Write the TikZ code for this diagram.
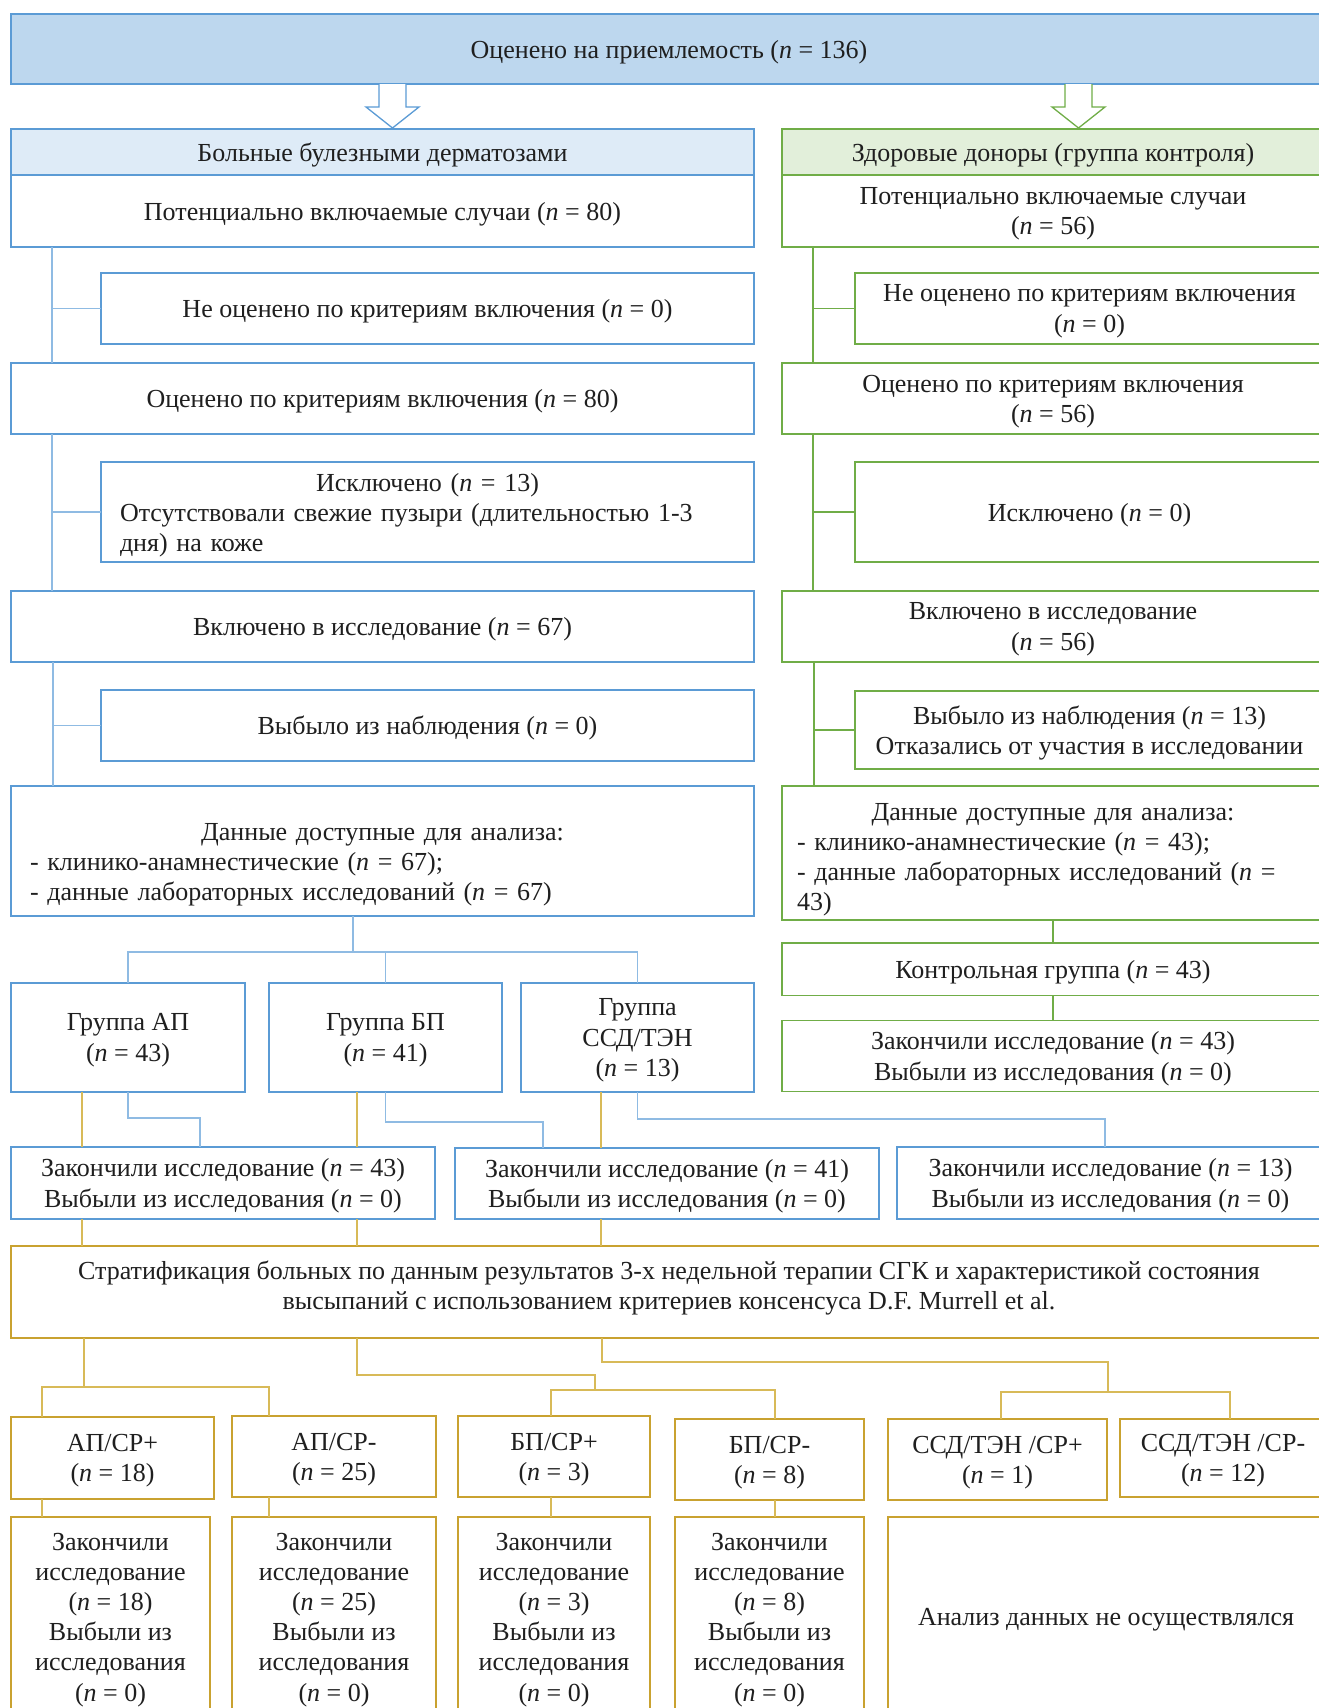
\documentclass[tikz,border=0pt]{standalone}
\usepackage{fontspec}
\setmainfont{Liberation Serif}
\usetikzlibrary{calc}
\definecolor{bluBd}{HTML}{5B9BD5}
\definecolor{bluLn}{HTML}{8FBBE3}
\definecolor{topFill}{HTML}{BDD7EE}
\definecolor{hdrBl}{HTML}{DEEBF7}
\definecolor{grnBd}{HTML}{70AD47}
\definecolor{hdrGr}{HTML}{E2EFDA}
\definecolor{gldBd}{HTML}{C9A230}
\definecolor{gldLn}{HTML}{D8BA58}
\newcommand{\nv}{\textit{n}}
\newcommand{\midline}[1]{\makebox[\hsize]{#1}}
\begin{document}
\begin{tikzpicture}[x=1pt, y=-1pt,
    every node/.style={font=\fontsize{26}{30.2}\selectfont, text=black!88, inner sep=0pt, outer sep=0pt, text depth=-3pt},
    bxB/.style={rectangle, draw=bluBd, line width=1.5pt, fill=white, align=center},
    bxG/.style={rectangle, draw=grnBd, line width=1.5pt, fill=white, align=center},
    bxY/.style={rectangle, draw=gldBd, line width=1.5pt, fill=white, align=center},
    lnB/.style={draw=bluLn, line width=1.3pt},
    lnG/.style={draw=grnBd, line width=1.2pt},
    lnY/.style={draw=gldLn, line width=1.3pt},
    fatB/.style={draw=bluBd, fill=white, line width=1.3pt},
    fatG/.style={draw=grnBd, fill=white, line width=1.3pt}]
    \clip (0,0) rectangle (1319,1708);

    \node[bxB, fill=topFill, minimum width=1316, minimum height=70] (eval) at (669,49) {Оценено на приемлемость (\nv{} = 136)};

    \node[bxB, fill=hdrBl, minimum width=743, minimum height=46.5] (hdrL) at (382.5,152) {Больные булезными дерматозами};
    \node[bxB, minimum width=743, minimum height=72] (potL) at (382.5,211) {Потенциально включаемые случаи (\nv{} = 80)};
    \node[bxB, minimum width=653, minimum height=71] (notL) at (427.5,308.5) {Не оценено по критериям включения (\nv{} = 0)};
    \node[bxB, minimum width=743, minimum height=71] (evlL) at (382.5,398.5) {Оценено по критериям включения (\nv{} = 80)};
    \node[bxB, minimum width=653, minimum height=100, text width=615, align=left, text depth=59pt] (excL) at (427.5,512) {\midline{Исключено (\nv{} = 13)}\\Отсутствовали свежие пузыри (длительностью 1-3\\дня) на коже};
    \node[bxB, minimum width=743, minimum height=71] (incL) at (382.5,626.5) {Включено в исследование (\nv{} = 67)};
    \node[bxB, minimum width=653, minimum height=71] (outL) at (427.5,725.5) {Выбыло из наблюдения (\nv{} = 0)};
    \node[bxB, minimum width=743, minimum height=130, text width=705, align=left, text depth=38pt] (datL) at (382.5,851) {\midline{Данные доступные для анализа:}\\- клинико-анамнестические (\nv{} = 67);\\- данные лабораторных исследований (\nv{} = 67)};

    \node[bxG, fill=hdrGr, minimum width=542, minimum height=46.5] (hdrR) at (1053,152) {Здоровые доноры (группа контроля)};
    \node[bxG, minimum width=542, minimum height=72] (potR) at (1053,211) {Потенциально включаемые случаи\\(\nv{} = 56)};
    \node[bxG, minimum width=469, minimum height=71] (notR) at (1089.5,308.5) {Не оценено по критериям включения\\(\nv{} = 0)};
    \node[bxG, minimum width=542, minimum height=71] (evlR) at (1053,398.5) {Оценено по критериям включения\\(\nv{} = 56)};
    \node[bxG, minimum width=469, minimum height=100] (excR) at (1089.5,512) {Исключено (\nv{} = 0)};
    \node[bxG, minimum width=542, minimum height=71] (incR) at (1053,626.5) {Включено в исследование\\(\nv{} = 56)};
    \node[bxG, minimum width=469, minimum height=78] (outR) at (1089.5,730) {Выбыло из наблюдения (\nv{} = 13)\\Отказались от участия в исследовании};
    \node[bxG, minimum width=542, minimum height=134, text width=512, align=left, text depth=83pt] (datR) at (1053,853) {\midline{Данные доступные для анализа:}\\- клинико-анамнестические (\nv{} = 43);\\\makebox[\hsize][s]{- данные лабораторных исследований (\nv{} =}\\43)};
    \node[bxG, minimum width=542, minimum height=52.5] (ctlR) at (1053,969) {Контрольная группа (\nv{} = 43)};
    \node[bxG, minimum width=542, minimum height=71] (finR) at (1053,1056) {Закончили исследование (\nv{} = 43)\\Выбыли из исследования (\nv{} = 0)};

    \node[bxB, minimum width=234, minimum height=109] (grpA) at (128,1037.5) {Группа АП\\(\nv{} = 43)};
    \node[bxB, minimum width=233, minimum height=109] (grpB) at (385.5,1037.5) {Группа БП\\(\nv{} = 41)};
    \node[bxB, minimum width=233, minimum height=109] (grpC) at (637.5,1037.5) {Группа\\ССД/ТЭН\\(\nv{} = 13)};

    \node[bxB, minimum width=424, minimum height=72] (finA) at (223,1183) {Закончили исследование (\nv{} = 43)\\Выбыли из исследования (\nv{} = 0)};
    \node[bxB, minimum width=424, minimum height=71] (finB) at (667,1183.5) {Закончили исследование (\nv{} = 41)\\Выбыли из исследования (\nv{} = 0)};
    \node[bxB, minimum width=427, minimum height=72] (finC) at (1110.5,1183) {Закончили исследование (\nv{} = 13)\\Выбыли из исследования (\nv{} = 0)};

    \node[bxY, minimum width=1316, minimum height=92, text depth=13pt] (strat) at (669,1292) {Стратификация больных по данным результатов 3-х недельной терапии СГК и характеристикой состояния\\высыпаний с использованием критериев консенсуса D.F. Murrell et al.};

    \node[bxY, minimum width=203, minimum height=82] (spA) at (112.5,1458) {АП/СР+\\(\nv{} = 18)};
    \node[bxY, minimum width=204, minimum height=81] (snA) at (334,1456.5) {АП/СР-\\(\nv{} = 25)};
    \node[bxY, minimum width=192, minimum height=81] (spB) at (554,1456.5) {БП/СР+\\(\nv{} = 3)};
    \node[bxY, minimum width=189, minimum height=81] (snB) at (769.5,1459.5) {БП/СР-\\(\nv{} = 8)};
    \node[bxY, minimum width=219, minimum height=81] (spC) at (997.5,1459.5) {ССД/ТЭН /СР+\\(\nv{} = 1)};
    \node[bxY, minimum width=206, minimum height=78] (snC) at (1223,1458) {ССД/ТЭН /СР-\\(\nv{} = 12)};

    \node[bxY, minimum width=199, minimum height=200] (fA) at (110.5,1617) {Закончили\\исследование\\(\nv{} = 18)\\Выбыли из\\исследования\\(\nv{} = 0)};
    \node[bxY, minimum width=204, minimum height=200] (fB) at (334,1617) {Закончили\\исследование\\(\nv{} = 25)\\Выбыли из\\исследования\\(\nv{} = 0)};
    \node[bxY, minimum width=192, minimum height=200] (fC) at (554,1617) {Закончили\\исследование\\(\nv{} = 3)\\Выбыли из\\исследования\\(\nv{} = 0)};
    \node[bxY, minimum width=189, minimum height=200] (fD) at (769.5,1617) {Закончили\\исследование\\(\nv{} = 8)\\Выбыли из\\исследования\\(\nv{} = 0)};
    \node[bxY, minimum width=436, minimum height=200] (fE) at (1106,1617) {Анализ данных не осуществлялся};

    \draw[fatB] ([xshift=368]eval.south west) -- ++(0,23) -- ++(-13,0) -- ++(26.5,21) -- ++(26.5,-21) -- ++(-13,0) -- ++(0,-23);
    \draw[fatG] ([xshift=1054]eval.south west) -- ++(0,23) -- ++(-13,0) -- ++(26.5,21) -- ++(26.5,-21) -- ++(-13,0) -- ++(0,-23);

    \draw[lnB] ([xshift=41]potL.south west) -- ([xshift=41]evlL.north west);
    \draw[lnB] ([xshift=41]evlL.south west) -- ([xshift=41]incL.north west);
    \draw[lnB] ([xshift=42]incL.south west) -- ([xshift=42]datL.north west);
    \draw[lnB] (notL.west) -- ++(-48,0);
    \draw[lnB] (excL.west) -- ++(-48,0);
    \draw[lnB] (outL.west) -- ++(-47,0);

    \draw[lnG] ([xshift=31]potR.south west) -- ([xshift=31]evlR.north west);
    \draw[lnG] ([xshift=31]evlR.south west) -- ([xshift=31]incR.north west);
    \draw[lnG] ([xshift=32]incR.south west) -- ([xshift=32]datR.north west);
    \draw[lnG] (notR.west) -- ++(-42,0);
    \draw[lnG] (excR.west) -- ++(-42,0);
    \draw[lnG] (outR.west) -- ++(-41,0);
    \draw[lnG] (datR.south) -- (ctlR.north);
    \draw[lnG] (ctlR.south) -- (finR.north);

    \draw[lnB] ([xshift=342]datL.south west) -- ++(0,36) coordinate (jG);
    \draw[lnB] (grpA.north) |- (jG) -| (grpC.north);
    \draw[lnB] (grpB.north) -- (grpB.north |- jG);

    \draw[lnB] (grpA.south) -- ++(0,26) -| ([xshift=189]finA.north west);
    \draw[lnB] (grpB.south) -- ++(0,30) -| ([xshift=88]finB.north west);
    \draw[lnB] (grpC.south) -- ++(0,27) -| ([xshift=208]finC.north west);

    \draw[lnY] ([xshift=71]grpA.south west) -- ([xshift=71]finA.north west);
    \draw[lnY] ([xshift=88]grpB.south west) -- ([xshift=346]finA.north west);
    \draw[lnY] ([xshift=80]grpC.south west) -- ([xshift=146]finB.north west);
    \draw[lnY] ([xshift=71]finA.south west) -- ([xshift=71]strat.north west);
    \draw[lnY] ([xshift=346]finA.south west) -- ([xshift=346]strat.north west);
    \draw[lnY] ([xshift=146]finB.south west) -- ([xshift=590]strat.north west);

    \draw[lnY] ([xshift=73]strat.south west) -- ++(0,49) coordinate (jA);
    \draw[lnY] ([xshift=31]spA.north west) |- (jA) -| ([xshift=37]snA.north west);
    \draw[lnY] ([xshift=346]strat.south west) |- ++(238,37) -- ++(0,15) coordinate (jB);
    \draw[lnY] ([xshift=93]spB.north west) |- (jB) -| ([xshift=100]snB.north west);
    \draw[lnY] ([xshift=591]strat.south west) |- ++(506,24) -- ++(0,30) coordinate (jC);
    \draw[lnY] ([xshift=113]spC.north west) |- (jC) -| ([xshift=110]snC.north west);

    \draw[lnY] ([xshift=31]spA.south west) -- ([xshift=31]fA.north west);
    \draw[lnY] ([xshift=37]snA.south west) -- ([xshift=37]fB.north west);
    \draw[lnY] ([xshift=93]spB.south west) -- ([xshift=93]fC.north west);
    \draw[lnY] ([xshift=100]snB.south west) -- ([xshift=100]fD.north west);
\end{tikzpicture}
\end{document}
